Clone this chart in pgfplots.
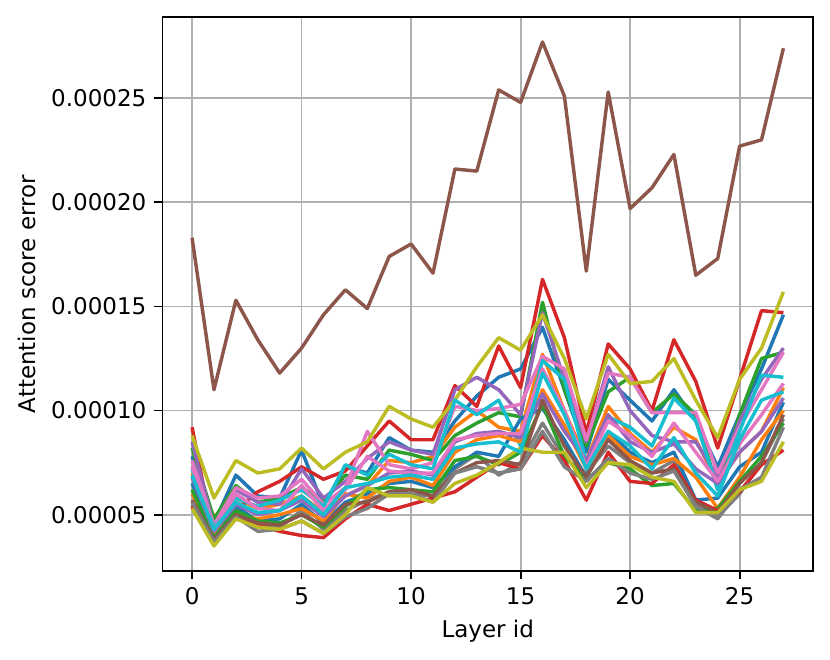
\documentclass[border=0pt]{standalone}
\usepackage{fontspec}
\setmainfont{DejaVu Sans}
\usepackage{pgfplots}
\usepackage{pgfplotstable}
\pgfplotsset{compat=1.18}

% tab10 colours
\definecolor{tblue}{HTML}{1F77B4}
\definecolor{torange}{HTML}{FF7F0E}
\definecolor{tgreen}{HTML}{2CA02C}
\definecolor{tred}{HTML}{D62728}
\definecolor{tpurple}{HTML}{9467BD}
\definecolor{tbrown}{HTML}{8C564B}
\definecolor{tpink}{HTML}{E377C2}
\definecolor{tgray}{HTML}{7F7F7F}
\definecolor{tolive}{HTML}{BCBD22}
\definecolor{tcyan}{HTML}{17BECF}
\definecolor{gridc}{HTML}{B0B0B0}

% one row per curve, values in units of 1e-5
\pgfplotstableread[col sep=comma]{
id,0,1,2,3,4,5,6,7,8,9,10,11,12,13,14,15,16,17,18,19,20,21,22,23,24,25,26,27
bA,7.8,4.6,6.9,5.9,5.8,8.1,5.4,7.3,7.0,8.7,8.1,8.0,9.5,10.7,11.6,12.0,14.0,11.0,8.0,11.5,10.5,9.5,11.0,9.5,7.3,9.8,12.0,14.6
oA,7.0,4.9,5.8,5.3,5.5,5.9,5.1,5.9,6.4,7.6,7.5,7.8,9.2,10.0,9.2,9.0,12.7,10.0,7.6,10.2,8.9,8.0,9.2,8.6,6.5,8.0,9.0,11.1
gA,8.2,4.8,6.4,5.6,5.8,6.3,5.6,6.9,6.7,8.1,7.9,7.6,8.8,9.4,9.9,9.7,15.2,11.0,8.3,10.9,11.6,9.9,10.8,9.8,6.2,9.8,12.5,12.8
rA,9.2,3.8,5.2,6.1,6.6,7.3,6.7,7.1,8.3,9.5,8.6,8.6,11.2,10.2,13.1,11.1,16.3,13.5,8.9,13.2,12.0,10.0,13.4,11.4,8.2,11.5,14.8,14.7
pA,8.5,4.4,6.2,5.6,5.5,7.2,5.8,6.6,7.7,8.5,8.1,7.9,11.0,11.6,11.0,9.8,14.7,11.5,8.5,12.1,10.0,8.8,8.5,8.5,6.8,9.5,11.5,13.0
br,18.3,11.0,15.3,13.4,11.8,13.0,14.6,15.8,14.9,17.4,18.0,16.6,21.6,21.5,25.4,24.8,27.7,25.1,16.7,25.3,19.7,20.7,22.3,16.5,17.3,22.7,23.0,27.4
piA,7.6,4.5,6.3,5.8,5.9,6.7,5.5,6.3,9.0,7.4,7.2,7.5,10.2,10.0,10.1,10.3,12.6,12.0,8.6,11.8,11.6,9.9,9.9,9.9,7.0,9.2,11.0,12.8
grA,5.5,3.6,5.1,4.5,4.4,5.2,4.3,5.2,5.7,6.1,6.0,5.9,7.2,7.9,6.9,7.5,9.4,7.7,7.0,8.3,7.5,7.0,7.6,5.6,4.9,6.0,7.5,9.6
olA,8.8,5.8,7.6,7.0,7.2,8.2,7.2,8.0,8.5,10.2,9.6,9.2,10.5,12.1,13.5,12.9,14.6,12.5,9.6,12.7,11.3,11.4,12.5,10.5,8.7,11.5,13.0,15.7
cA,7.2,4.4,5.8,5.4,5.7,6.2,5.4,7.4,6.9,7.9,7.4,7.2,10.5,9.8,10.5,8.3,12.4,11.5,7.5,9.7,9.2,8.3,10.6,9.5,6.2,9.0,11.7,11.6
bB,6.5,4.0,5.4,4.7,4.8,5.5,4.6,5.6,6.0,6.5,6.6,6.3,7.3,8.0,7.8,9.6,10.1,8.6,6.8,9.0,8.0,7.5,8.0,5.7,5.8,7.3,8.0,10.4
oB,6.0,4.1,5.0,4.8,5.0,5.3,4.7,6.0,5.8,6.6,6.8,6.4,8.0,8.6,8.8,8.5,11.0,9.3,7.2,8.8,7.8,7.4,7.7,6.8,5.3,6.8,8.6,10.0
gB,6.2,3.9,5.2,4.7,4.6,5.0,4.4,5.4,6.2,6.3,6.2,6.1,7.6,7.8,7.4,8.0,10.3,7.8,6.7,7.5,7.2,6.4,6.5,5.2,5.3,6.6,7.8,9.4
rB,5.4,3.6,4.8,4.5,4.2,4.0,3.9,4.8,5.5,5.2,5.5,5.8,6.1,6.8,7.5,7.2,8.8,7.6,5.7,8.0,6.6,6.5,7.4,5.7,5.2,6.1,7.4,8.1
pB,6.8,4.2,5.5,5.0,5.2,5.7,4.9,5.9,6.4,7.0,7.1,6.9,8.5,8.9,9.0,8.7,10.8,9.0,7.6,9.8,8.5,8.0,8.4,7.2,6.5,8.0,9.0,10.6
brB,5.7,3.8,5.0,4.6,4.5,5.0,4.5,5.5,5.6,6.1,6.2,5.9,7.0,7.5,7.6,7.4,10.5,8.3,6.8,8.6,7.6,7.0,7.2,5.6,5.1,6.5,7.5,9.8
piB,7.3,4.3,6.0,5.3,5.2,6.4,5.2,6.2,7.8,7.1,7.0,7.0,8.6,8.8,8.9,8.9,12.0,10.0,7.3,9.5,8.8,7.8,9.4,8.0,6.6,8.4,9.8,11.3
grB,5.6,3.7,4.9,4.2,4.3,4.7,4.1,4.9,5.3,6.0,6.0,5.6,7.0,7.3,7.0,7.2,9.0,7.3,6.6,7.7,7.0,6.7,7.1,5.4,4.8,6.2,6.8,9.2
olB,5.3,3.5,4.8,4.4,4.3,4.7,4.1,5.0,6.3,5.9,5.9,5.6,6.5,6.9,7.5,8.2,8.0,8.0,6.3,7.5,7.4,6.8,6.6,5.1,5.1,6.2,6.6,8.5
cB,6.9,4.3,5.6,5.1,5.2,5.9,5.0,6.3,6.5,6.8,6.9,6.7,8.2,8.4,8.5,8.0,11.8,9.8,7.2,9.0,8.3,7.2,8.7,7.0,5.9,8.6,10.5,10.9
}\raw
\pgfplotstabletranspose[colnames from=id, input colnames to=layer]\errs\raw

\begin{document}
\begin{tikzpicture}
\begin{axis}[
  at={(0,0)}, anchor=south west,
  scale only axis, width=282.8pt, height=240.9pt,
  xmin=-1.35, xmax=28.35, ymin=2.29, ymax=28.9,
  xtick={0,5,10,15,20,25},
  ytick={5,10,15,20,25},
  yticklabels={0.00005,0.00010,0.00015,0.00020,0.00025},
  xticklabel style={/pgf/number format/assume math mode=true},
  grid=major,
  major grid style={line width=0.8pt, color=gridc},
  axis line style={line width=0.8pt},
  tick align=outside, tick pos=left, major tick length=3.5pt,
  every tick/.style={black, line width=0.8pt},
  xlabel={Layer id}, ylabel={Attention score error},
  every axis plot/.append style={line width=1.5pt, line join=round},
]
\addplot[tblue] table[x=layer, y=bA] {\errs};
\addplot[torange] table[x=layer, y=oA] {\errs};
\addplot[tgreen] table[x=layer, y=gA] {\errs};
\addplot[tred] table[x=layer, y=rA] {\errs};
\addplot[tpurple] table[x=layer, y=pA] {\errs};
\addplot[tbrown] table[x=layer, y=br] {\errs};
\addplot[tpink] table[x=layer, y=piA] {\errs};
\addplot[tgray] table[x=layer, y=grA] {\errs};
\addplot[tolive] table[x=layer, y=olA] {\errs};
\addplot[tcyan] table[x=layer, y=cA] {\errs};
\addplot[tblue] table[x=layer, y=bB] {\errs};
\addplot[torange] table[x=layer, y=oB] {\errs};
\addplot[tgreen] table[x=layer, y=gB] {\errs};
\addplot[tred] table[x=layer, y=rB] {\errs};
\addplot[tpurple] table[x=layer, y=pB] {\errs};
\addplot[tbrown] table[x=layer, y=brB] {\errs};
\addplot[tpink] table[x=layer, y=piB] {\errs};
\addplot[tgray] table[x=layer, y=grB] {\errs};
\addplot[tolive] table[x=layer, y=olB] {\errs};
\addplot[tcyan] table[x=layer, y=cB] {\errs};
\end{axis}
\pgfresetboundingbox
\path (-70.65pt,-38.3pt) rectangle (290.2pt,248.3pt);
\end{tikzpicture}
\end{document}
